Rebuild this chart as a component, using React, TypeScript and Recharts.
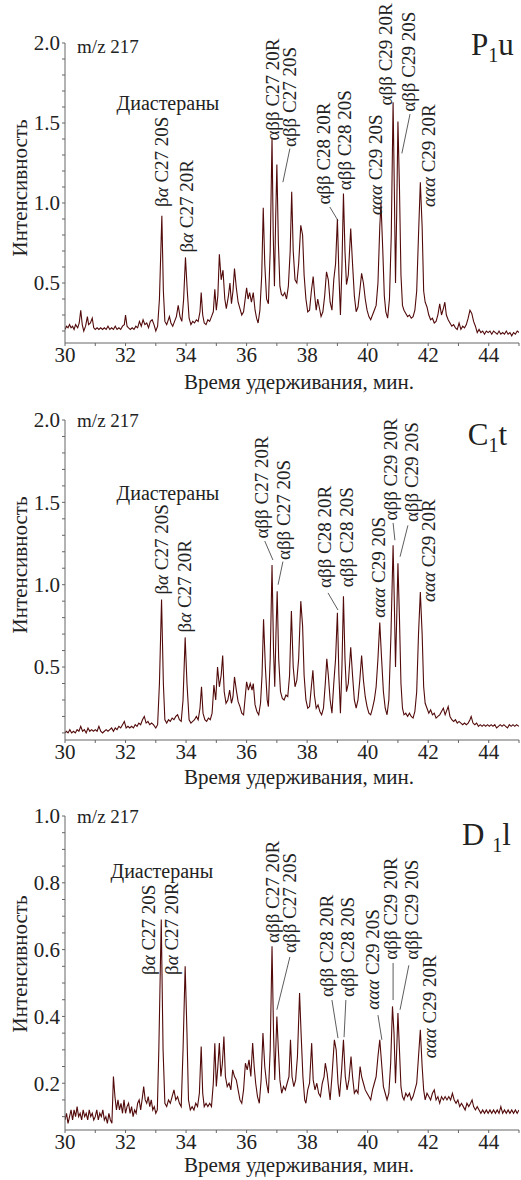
import React from 'react';
import { Line, LineChart, ReferenceDot, ReferenceLine, XAxis, YAxis } from 'recharts';

const FONT = '"Liberation Serif", "DejaVu Serif", serif';
const INK = '#222';
const AXIS = '#666';
const TRACE = '#520a0a';

// retention time ticks (every minute, labels on even minutes)
const xTicks = [30, 31, 32, 33, 34, 35, 36, 37, 38, 39, 40, 41, 42, 43, 44, 45];
const xLabelled = [30, 32, 34, 36, 38, 40, 42, 44];

const yTicksWide = [0.2, 0.3, 0.4, 0.5, 0.6, 0.7, 0.8, 0.9, 1.0, 1.1, 1.2, 1.3, 1.4, 1.5, 1.6, 1.7, 1.8, 1.9, 2.0];
const yMajorWide = [0.5, 1.0, 1.5, 2.0];
const yTicksNarrow = [0.1, 0.15, 0.2, 0.25, 0.3, 0.35, 0.4, 0.45, 0.5, 0.55, 0.6, 0.65, 0.7, 0.75, 0.8, 0.85, 0.9, 0.95, 1.0];
const yMajorNarrow = [0.2, 0.4, 0.6, 0.8, 1.0];

// P1u trace [time, intensity]
const traceP1: [number, number][] = [
  [30.0, 0.21], [30.05, 0.23], [30.1, 0.22], [30.15, 0.24], [30.2, 0.22], [30.25, 0.23], [30.3, 0.21], [30.35, 0.24],
  [30.42, 0.22], [30.47, 0.25], [30.52, 0.33], [30.57, 0.24], [30.62, 0.2], [30.68, 0.23], [30.74, 0.29], [30.78, 0.24],
  [30.84, 0.25], [30.9, 0.28], [30.95, 0.22], [31.0, 0.21], [31.06, 0.22], [31.12, 0.21], [31.18, 0.22], [31.24, 0.21],
  [31.3, 0.22], [31.36, 0.21], [31.42, 0.23], [31.48, 0.21], [31.54, 0.22], [31.6, 0.21], [31.66, 0.23], [31.72, 0.21],
  [31.78, 0.22], [31.84, 0.21], [31.9, 0.23], [31.96, 0.24], [32.0, 0.3], [32.05, 0.23], [32.1, 0.22], [32.16, 0.21],
  [32.22, 0.22], [32.28, 0.21], [32.34, 0.23], [32.4, 0.22], [32.46, 0.26], [32.52, 0.23], [32.58, 0.27], [32.64, 0.24],
  [32.7, 0.25], [32.76, 0.22], [32.82, 0.26], [32.88, 0.27], [32.94, 0.24], [33.0, 0.2], [33.06, 0.23], [33.12, 0.4],
  [33.2, 0.92], [33.25, 0.45], [33.3, 0.26], [33.36, 0.24], [33.45, 0.29], [33.5, 0.25], [33.56, 0.23], [33.62, 0.26],
  [33.68, 0.29], [33.74, 0.36], [33.8, 0.29], [33.86, 0.26], [33.92, 0.4], [33.98, 0.66], [34.04, 0.45], [34.1, 0.28],
  [34.16, 0.24], [34.22, 0.26], [34.28, 0.25], [34.34, 0.27], [34.4, 0.26], [34.46, 0.32], [34.5, 0.44], [34.55, 0.3],
  [34.6, 0.25], [34.66, 0.24], [34.72, 0.27], [34.78, 0.26], [34.84, 0.29], [34.9, 0.32], [34.95, 0.46], [35.0, 0.33],
  [35.05, 0.42], [35.1, 0.68], [35.16, 0.52], [35.22, 0.58], [35.28, 0.4], [35.33, 0.34], [35.4, 0.42], [35.45, 0.5],
  [35.5, 0.37], [35.55, 0.45], [35.6, 0.59], [35.66, 0.47], [35.72, 0.38], [35.78, 0.34], [35.84, 0.3], [35.9, 0.32],
  [35.96, 0.41], [36.0, 0.47], [36.05, 0.4], [36.1, 0.44], [36.16, 0.38], [36.22, 0.44], [36.28, 0.33], [36.33, 0.28],
  [36.38, 0.25], [36.44, 0.33], [36.5, 0.55], [36.55, 0.97], [36.6, 0.62], [36.66, 0.4], [36.72, 0.37], [36.78, 0.7],
  [36.84, 1.41], [36.88, 0.8], [36.92, 0.48], [36.96, 0.9], [37.0, 1.24], [37.05, 0.75], [37.1, 0.48], [37.15, 0.43],
  [37.2, 0.42], [37.26, 0.44], [37.32, 0.4], [37.38, 0.48], [37.44, 0.7], [37.49, 1.07], [37.54, 0.7], [37.6, 0.52],
  [37.66, 0.5], [37.72, 0.62], [37.79, 0.86], [37.85, 0.8], [37.9, 0.55], [37.96, 0.4], [38.02, 0.32], [38.08, 0.33],
  [38.14, 0.45], [38.2, 0.54], [38.25, 0.42], [38.3, 0.33], [38.35, 0.4], [38.4, 0.35], [38.46, 0.29], [38.52, 0.32],
  [38.58, 0.42], [38.64, 0.57], [38.7, 0.52], [38.76, 0.38], [38.82, 0.33], [38.88, 0.52], [38.94, 0.62], [39.0, 0.9],
  [39.05, 0.55], [39.1, 0.3], [39.15, 0.6], [39.2, 1.06], [39.25, 0.7], [39.3, 0.49], [39.36, 0.55], [39.44, 0.84],
  [39.5, 0.62], [39.56, 0.42], [39.62, 0.32], [39.68, 0.35], [39.74, 0.45], [39.8, 0.56], [39.86, 0.5], [39.92, 0.4],
  [39.98, 0.33], [40.04, 0.29], [40.1, 0.27], [40.16, 0.3], [40.22, 0.33], [40.28, 0.36], [40.34, 0.5], [40.4, 0.85],
  [40.44, 1.0], [40.5, 0.7], [40.55, 0.42], [40.6, 0.32], [40.66, 0.28], [40.72, 0.4], [40.78, 0.8], [40.84, 1.63],
  [40.88, 1.1], [40.92, 0.5], [40.96, 0.95], [41.0, 1.51], [41.05, 1.1], [41.1, 0.55], [41.15, 0.36], [41.2, 0.33],
  [41.26, 0.31], [41.32, 0.29], [41.38, 0.3], [41.44, 0.28], [41.5, 0.29], [41.56, 0.33], [41.62, 0.45], [41.68, 0.8],
  [41.74, 1.13], [41.8, 0.85], [41.85, 0.45], [41.9, 0.38], [41.96, 0.35], [42.02, 0.3], [42.08, 0.27], [42.14, 0.28],
  [42.2, 0.25], [42.26, 0.26], [42.32, 0.3], [42.38, 0.37], [42.44, 0.3], [42.5, 0.34], [42.55, 0.38], [42.6, 0.3],
  [42.66, 0.27], [42.72, 0.25], [42.78, 0.23], [42.84, 0.24], [42.9, 0.22], [42.96, 0.21], [43.02, 0.25], [43.08, 0.21],
  [43.14, 0.23], [43.2, 0.22], [43.26, 0.24], [43.32, 0.28], [43.38, 0.33], [43.44, 0.31], [43.5, 0.26], [43.56, 0.23],
  [43.62, 0.19], [43.68, 0.21], [43.74, 0.19], [43.8, 0.2], [43.86, 0.18], [43.92, 0.2], [43.98, 0.19], [44.04, 0.2],
  [44.1, 0.18], [44.16, 0.2], [44.22, 0.19], [44.28, 0.18], [44.34, 0.2], [44.4, 0.18], [44.46, 0.19], [44.52, 0.18],
  [44.58, 0.2], [44.64, 0.18], [44.7, 0.19], [44.76, 0.17], [44.82, 0.19], [44.88, 0.18], [44.94, 0.2], [45.0, 0.19],
];

// C1t trace
const traceC1: [number, number][] = [
  [30.0, 0.1], [30.05, 0.11], [30.1, 0.1], [30.16, 0.12], [30.22, 0.1], [30.28, 0.11], [30.34, 0.1], [30.4, 0.12],
  [30.46, 0.11], [30.52, 0.14], [30.58, 0.11], [30.64, 0.12], [30.7, 0.1], [30.76, 0.13], [30.82, 0.11], [30.88, 0.12],
  [30.94, 0.11], [31.0, 0.12], [31.06, 0.11], [31.12, 0.14], [31.18, 0.11], [31.24, 0.1], [31.3, 0.11], [31.36, 0.12],
  [31.42, 0.11], [31.48, 0.12], [31.54, 0.13], [31.6, 0.11], [31.66, 0.13], [31.72, 0.12], [31.78, 0.14], [31.84, 0.13],
  [31.9, 0.15], [31.96, 0.17], [32.02, 0.13], [32.08, 0.14], [32.14, 0.13], [32.2, 0.14], [32.26, 0.13], [32.32, 0.15],
  [32.38, 0.14], [32.44, 0.16], [32.5, 0.15], [32.56, 0.18], [32.62, 0.2], [32.68, 0.16], [32.74, 0.17], [32.8, 0.15],
  [32.86, 0.16], [32.92, 0.15], [33.0, 0.13], [33.06, 0.15], [33.12, 0.4], [33.19, 0.91], [33.25, 0.4], [33.3, 0.18],
  [33.36, 0.16], [33.42, 0.18], [33.48, 0.17], [33.54, 0.19], [33.6, 0.18], [33.66, 0.2], [33.72, 0.21], [33.78, 0.18],
  [33.84, 0.17], [33.9, 0.3], [33.97, 0.68], [34.03, 0.4], [34.1, 0.18], [34.16, 0.16], [34.22, 0.17], [34.28, 0.18],
  [34.34, 0.2], [34.4, 0.18], [34.46, 0.25], [34.51, 0.38], [34.56, 0.22], [34.62, 0.18], [34.68, 0.17], [34.74, 0.19],
  [34.8, 0.18], [34.86, 0.22], [34.92, 0.39], [34.98, 0.3], [35.04, 0.5], [35.1, 0.38], [35.16, 0.45], [35.21, 0.57],
  [35.26, 0.35], [35.32, 0.28], [35.38, 0.3], [35.44, 0.36], [35.5, 0.28], [35.55, 0.32], [35.6, 0.44], [35.66, 0.36],
  [35.72, 0.29], [35.78, 0.26], [35.84, 0.22], [35.9, 0.21], [35.96, 0.33], [36.0, 0.41], [36.06, 0.36], [36.12, 0.4],
  [36.18, 0.36], [36.22, 0.4], [36.28, 0.27], [36.34, 0.23], [36.4, 0.21], [36.46, 0.28], [36.51, 0.45], [36.56, 0.79],
  [36.62, 0.5], [36.68, 0.3], [36.72, 0.26], [36.78, 0.55], [36.84, 1.12], [36.89, 0.6], [36.93, 0.38], [36.97, 0.7],
  [37.01, 0.96], [37.06, 0.55], [37.12, 0.35], [37.18, 0.31], [37.24, 0.3], [37.3, 0.33], [37.36, 0.32], [37.42, 0.45],
  [37.48, 0.84], [37.54, 0.5], [37.6, 0.38], [37.66, 0.42], [37.72, 0.55], [37.79, 0.9], [37.85, 0.75], [37.9, 0.45],
  [37.96, 0.3], [38.02, 0.25], [38.08, 0.26], [38.14, 0.38], [38.19, 0.48], [38.24, 0.33], [38.3, 0.25], [38.36, 0.27],
  [38.42, 0.23], [38.48, 0.21], [38.54, 0.25], [38.6, 0.4], [38.65, 0.55], [38.7, 0.45], [38.76, 0.3], [38.82, 0.22],
  [38.88, 0.4], [38.94, 0.55], [39.0, 0.83], [39.05, 0.45], [39.1, 0.22], [39.15, 0.5], [39.2, 0.93], [39.25, 0.55],
  [39.3, 0.35], [39.36, 0.4], [39.44, 0.62], [39.5, 0.45], [39.56, 0.3], [39.62, 0.25], [39.68, 0.3], [39.74, 0.42],
  [39.8, 0.57], [39.86, 0.42], [39.92, 0.32], [39.98, 0.26], [40.04, 0.22], [40.1, 0.21], [40.16, 0.25], [40.22, 0.3],
  [40.28, 0.38], [40.34, 0.55], [40.4, 0.77], [40.46, 0.55], [40.52, 0.35], [40.58, 0.25], [40.64, 0.21], [40.7, 0.3],
  [40.77, 0.7], [40.84, 1.24], [40.88, 0.9], [40.92, 0.5], [40.96, 0.8], [41.0, 1.13], [41.05, 0.8], [41.1, 0.4],
  [41.15, 0.25], [41.2, 0.21], [41.26, 0.22], [41.32, 0.2], [41.38, 0.22], [41.44, 0.2], [41.5, 0.19], [41.56, 0.23],
  [41.62, 0.35], [41.68, 0.7], [41.74, 0.955], [41.8, 0.7], [41.85, 0.38], [41.9, 0.28], [41.96, 0.25], [42.02, 0.22],
  [42.08, 0.24], [42.14, 0.21], [42.2, 0.22], [42.26, 0.19], [42.32, 0.2], [42.38, 0.21], [42.44, 0.23], [42.5, 0.25],
  [42.56, 0.21], [42.62, 0.24], [42.66, 0.26], [42.72, 0.2], [42.78, 0.18], [42.84, 0.17], [42.9, 0.18], [42.96, 0.16],
  [43.02, 0.17], [43.08, 0.16], [43.14, 0.15], [43.2, 0.16], [43.26, 0.15], [43.32, 0.16], [43.38, 0.18], [43.42, 0.2],
  [43.48, 0.16], [43.54, 0.15], [43.6, 0.16], [43.66, 0.14], [43.72, 0.15], [43.78, 0.14], [43.84, 0.15], [43.9, 0.14],
  [43.96, 0.15], [44.02, 0.14], [44.08, 0.15], [44.14, 0.14], [44.2, 0.15], [44.26, 0.13], [44.32, 0.14], [44.38, 0.15],
  [44.44, 0.14], [44.5, 0.15], [44.56, 0.14], [44.62, 0.13], [44.68, 0.15], [44.74, 0.14], [44.8, 0.15], [44.86, 0.14],
  [44.92, 0.15], [45.0, 0.14],
];

// D1l trace
const traceD1: [number, number][] = [
  [30.0, 0.09], [30.05, 0.11], [30.1, 0.08], [30.15, 0.1], [30.2, 0.12], [30.25, 0.09], [30.3, 0.12], [30.35, 0.1],
  [30.4, 0.13], [30.45, 0.1], [30.5, 0.11], [30.55, 0.09], [30.6, 0.12], [30.65, 0.1], [30.7, 0.11], [30.75, 0.09],
  [30.8, 0.12], [30.85, 0.1], [30.9, 0.11], [30.95, 0.09], [31.0, 0.1], [31.05, 0.12], [31.1, 0.09], [31.15, 0.11],
  [31.2, 0.1], [31.25, 0.12], [31.3, 0.09], [31.35, 0.1], [31.4, 0.08], [31.45, 0.11], [31.5, 0.09], [31.55, 0.08],
  [31.6, 0.22], [31.65, 0.16], [31.7, 0.12], [31.75, 0.15], [31.8, 0.12], [31.85, 0.14], [31.9, 0.11], [31.95, 0.15],
  [32.0, 0.11], [32.05, 0.13], [32.1, 0.14], [32.15, 0.11], [32.2, 0.13], [32.25, 0.1], [32.3, 0.12], [32.35, 0.11],
  [32.4, 0.14], [32.45, 0.15], [32.5, 0.12], [32.56, 0.16], [32.6, 0.19], [32.65, 0.15], [32.7, 0.14], [32.75, 0.16],
  [32.8, 0.13], [32.85, 0.15], [32.9, 0.12], [32.95, 0.13], [33.0, 0.11], [33.05, 0.12], [33.1, 0.3], [33.18, 0.69],
  [33.24, 0.3], [33.3, 0.14], [33.36, 0.13], [33.42, 0.15], [33.48, 0.14], [33.54, 0.16], [33.6, 0.18], [33.66, 0.15],
  [33.72, 0.16], [33.78, 0.14], [33.84, 0.13], [33.9, 0.3], [33.97, 0.55], [34.03, 0.35], [34.08, 0.15], [34.14, 0.12],
  [34.2, 0.13], [34.26, 0.12], [34.32, 0.14], [34.38, 0.13], [34.44, 0.17], [34.5, 0.31], [34.55, 0.17], [34.6, 0.13],
  [34.66, 0.14], [34.72, 0.13], [34.78, 0.14], [34.84, 0.13], [34.9, 0.2], [34.95, 0.32], [35.0, 0.19], [35.05, 0.25],
  [35.1, 0.32], [35.15, 0.22], [35.2, 0.26], [35.25, 0.34], [35.3, 0.22], [35.36, 0.19], [35.42, 0.2], [35.48, 0.18],
  [35.54, 0.24], [35.6, 0.22], [35.66, 0.21], [35.72, 0.18], [35.78, 0.15], [35.84, 0.14], [35.9, 0.18], [35.96, 0.26],
  [36.02, 0.24], [36.08, 0.27], [36.14, 0.22], [36.2, 0.32], [36.25, 0.25], [36.3, 0.2], [36.36, 0.16], [36.42, 0.14],
  [36.48, 0.21], [36.54, 0.35], [36.6, 0.25], [36.66, 0.2], [36.72, 0.17], [36.78, 0.3], [36.84, 0.61], [36.89, 0.35],
  [36.93, 0.21], [37.0, 0.4], [37.05, 0.3], [37.1, 0.21], [37.16, 0.17], [37.22, 0.19], [37.28, 0.18], [37.34, 0.2],
  [37.4, 0.22], [37.45, 0.33], [37.5, 0.22], [37.56, 0.19], [37.62, 0.21], [37.68, 0.28], [37.75, 0.47], [37.8, 0.35],
  [37.86, 0.22], [37.92, 0.15], [37.96, 0.14], [38.02, 0.18], [38.08, 0.2], [38.15, 0.32], [38.2, 0.21], [38.26, 0.18],
  [38.32, 0.2], [38.38, 0.17], [38.44, 0.16], [38.5, 0.2], [38.56, 0.22], [38.6, 0.26], [38.66, 0.23], [38.72, 0.18],
  [38.76, 0.15], [38.82, 0.22], [38.9, 0.33], [38.96, 0.3], [39.02, 0.2], [39.07, 0.16], [39.14, 0.24], [39.2, 0.33],
  [39.26, 0.22], [39.32, 0.18], [39.38, 0.21], [39.45, 0.28], [39.5, 0.22], [39.56, 0.17], [39.62, 0.18], [39.68, 0.17],
  [39.75, 0.25], [39.8, 0.22], [39.86, 0.2], [39.92, 0.18], [39.98, 0.17], [40.04, 0.16], [40.1, 0.15], [40.16, 0.18],
  [40.22, 0.2], [40.28, 0.22], [40.34, 0.28], [40.4, 0.33], [40.46, 0.26], [40.52, 0.19], [40.58, 0.17], [40.64, 0.15],
  [40.7, 0.17], [40.76, 0.26], [40.82, 0.43], [40.87, 0.35], [40.92, 0.2], [40.96, 0.3], [41.0, 0.41], [41.05, 0.3],
  [41.1, 0.19], [41.15, 0.16], [41.2, 0.15], [41.26, 0.17], [41.32, 0.16], [41.38, 0.17], [41.44, 0.15], [41.5, 0.16],
  [41.56, 0.18], [41.62, 0.2], [41.68, 0.28], [41.74, 0.36], [41.8, 0.25], [41.85, 0.18], [41.9, 0.15], [41.96, 0.17],
  [42.02, 0.16], [42.08, 0.15], [42.14, 0.17], [42.2, 0.18], [42.26, 0.15], [42.32, 0.16], [42.38, 0.14], [42.44, 0.16],
  [42.5, 0.15], [42.56, 0.16], [42.62, 0.15], [42.68, 0.16], [42.74, 0.15], [42.8, 0.17], [42.86, 0.15], [42.92, 0.14],
  [42.98, 0.15], [43.04, 0.13], [43.1, 0.14], [43.16, 0.13], [43.22, 0.12], [43.28, 0.14], [43.34, 0.13], [43.4, 0.14],
  [43.45, 0.15], [43.5, 0.13], [43.56, 0.12], [43.62, 0.13], [43.68, 0.12], [43.74, 0.11], [43.8, 0.12], [43.86, 0.11],
  [43.92, 0.12], [43.98, 0.11], [44.04, 0.12], [44.1, 0.11], [44.16, 0.12], [44.22, 0.11], [44.28, 0.12], [44.34, 0.11],
  [44.4, 0.13], [44.46, 0.11], [44.52, 0.12], [44.58, 0.11], [44.64, 0.12], [44.7, 0.11], [44.76, 0.12], [44.82, 0.11],
  [44.88, 0.12], [44.94, 0.11], [45.0, 0.12],
];

type Peak = { t: number; v: number; text: string };
type Leader = [number, number, number, number];

// peak labels: t = column centre, v = bottom of the rotated text
const peaksP1: Peak[] = [
  { t: 33.17, v: 0.975, text: 'βα C27 20S' },
  { t: 34.0, v: 0.69, text: 'βα C27 20R' },
  { t: 36.84, v: 1.39, text: 'αββ C27 20R' },
  { t: 37.4, v: 1.35, text: 'αββ C27 20S' },
  { t: 38.52, v: 0.99, text: 'αββ C28 20R' },
  { t: 39.22, v: 1.08, text: 'αββ C28 20S' },
  { t: 40.27, v: 0.925, text: 'ααα C29 20S' },
  { t: 40.6, v: 1.61, text: 'αββ C29 20R' },
  { t: 41.33, v: 1.57, text: 'αββ C29 20S' },
  { t: 41.99, v: 0.975, text: 'ααα C29 20R' },
];
const leadersP1: Leader[] = [
  [37.43, 1.34, 37.2, 1.13],
  [38.75, 0.975, 39.02, 0.89],
  [41.4, 1.556, 41.13, 1.31],
];

const peaksC1: Peak[] = [
  { t: 33.17, v: 0.94, text: 'βα C27 20S' },
  { t: 33.96, v: 0.71, text: 'βα C27 20R' },
  { t: 36.5, v: 1.28, text: 'αββ C27 20R' },
  { t: 37.23, v: 1.15, text: 'αββ C27 20S' },
  { t: 38.56, v: 0.98, text: 'αββ C28 20R' },
  { t: 39.28, v: 0.985, text: 'αββ C28 20S' },
  { t: 40.34, v: 0.8, text: 'ααα C29 20S' },
  { t: 40.74, v: 1.39, text: 'αββ C29 20R' },
  { t: 41.43, v: 1.38, text: 'αββ C29 20S' },
  { t: 41.99, v: 0.895, text: 'ααα C29 20R' },
];
const leadersC1: Leader[] = [
  [36.6, 1.265, 36.87, 1.15],
  [37.2, 1.14, 37.04, 1.0],
  [38.69, 0.95, 39.02, 0.846],
  [40.84, 1.375, 40.9, 1.27],
  [41.33, 1.36, 41.07, 1.17],
];

const peaksD1: Peak[] = [
  { t: 32.74, v: 0.524, text: 'βα C27 20S' },
  { t: 33.53, v: 0.524, text: 'βα C27 20R' },
  { t: 36.84, v: 0.62, text: 'αββ C27 20R' },
  { t: 37.4, v: 0.59, text: 'αββ C27 20S' },
  { t: 38.62, v: 0.458, text: 'αββ C28 20R' },
  { t: 39.32, v: 0.458, text: 'αββ C28 20S' },
  { t: 40.14, v: 0.42, text: 'ααα C29 20S' },
  { t: 40.74, v: 0.57, text: 'αββ C29 20R' },
  { t: 41.43, v: 0.57, text: 'αββ C29 20S' },
  { t: 42.03, v: 0.275, text: 'ααα C29 20R' },
];
const leadersD1: Leader[] = [
  [37.43, 0.578, 37.0, 0.42],
  [38.82, 0.449, 39.02, 0.335],
  [39.28, 0.449, 39.22, 0.338],
  [40.34, 0.404, 40.47, 0.33],
  [40.84, 0.56, 40.84, 0.449],
  [41.36, 0.553, 41.07, 0.42],
];

function PeakText({ viewBox, text }: any) {
  const x = viewBox?.x ?? 0;
  const y = viewBox?.y ?? 0;
  const [head, ...rest] = text.split(' ');
  let headNode: React.ReactNode = head;
  if (head === 'ααα') headNode = <tspan fontStyle="italic">ααα</tspan>;
  if (head === 'βα') headNode = <>β<tspan fontStyle="italic">α</tspan></>;
  return (
    <text
      x={x}
      y={y}
      dy="0.35em"
      transform={`rotate(-90 ${x} ${y})`}
      fill={INK}
      fontSize={19}
      style={{ fontFamily: FONT }}
      textAnchor="start"
    >
      {headNode}
      {' ' + rest.join(' ')}
    </text>
  );
}

function NoteText({ viewBox, text, anchor, size, rotate }: any) {
  const x = viewBox?.x ?? 0;
  const y = viewBox?.y ?? 0;
  return (
    <text
      x={x}
      y={y}
      dy={rotate ? '0.35em' : 0}
      transform={rotate ? `rotate(-90 ${x} ${y})` : undefined}
      fill={INK}
      fontSize={size}
      style={{ fontFamily: FONT }}
      textAnchor={anchor}
    >
      {text}
    </text>
  );
}

function SampleName({ viewBox, main, sub, tail }: any) {
  const x = viewBox?.x ?? 0;
  const y = viewBox?.y ?? 0;
  return (
    <text x={x} y={y} fill={INK} fontSize={31} style={{ fontFamily: FONT }}>
      {main}
      <tspan fontSize={20} dy={7}>{sub}</tspan>
      <tspan dy={-7}>{tail}</tspan>
    </text>
  );
}

type PanelProps = {
  top: number;
  height: number;
  margin: { top: number; right: number; bottom: number; left: number };
  trace: [number, number][];
  yDomain: [number, number];
  yTicks: number[];
  yMajor: number[];
  peaks: Peak[];
  leaders: Leader[];
  mz: [number, number];
  group: [number, number];
  sample: { t: number; v: number; main: string; sub: string; tail: string };
  yTitle: [number, number];
  xTitle: [number, number];
};

const tickStyle = { fill: INK, fontSize: 21, fontFamily: FONT };

function Panel(p: PanelProps) {
  const data = p.trace.map(([t, v]) => ({ t, v }));
  return (
    <div style={{ position: 'absolute', left: 0, top: p.top }}>
      <LineChart width={521} height={p.height} data={data} margin={p.margin}>
        <XAxis
          dataKey="t"
          type="number"
          domain={[30, 45]}
          ticks={xTicks}
          interval={0}
          allowDataOverflow
          tickFormatter={(v: number) => (xLabelled.includes(v) ? String(v) : '')}
          tickSize={3}
          tickMargin={1}
          height={30}
          stroke={AXIS}
          tick={tickStyle}
        />
        <YAxis
          type="number"
          domain={p.yDomain}
          ticks={p.yTicks}
          interval={0}
          allowDataOverflow
          tickFormatter={(v: number) => (p.yMajor.some((m) => Math.abs(m - v) < 1e-6) ? v.toFixed(1) : '')}
          tickSize={3}
          tickMargin={2}
          width={50}
          stroke={AXIS}
          tick={tickStyle}
        />
        <Line
          type="linear"
          dataKey="v"
          stroke={TRACE}
          strokeWidth={1.1}
          dot={false}
          activeDot={false}
          isAnimationActive={false}
        />
        {p.leaders.map(([t1, v1, t2, v2], i) => (
          <ReferenceLine
            key={`l${i}`}
            segment={[{ x: t1, y: v1 }, { x: t2, y: v2 }]}
            stroke="#333"
            strokeWidth={0.8}
            ifOverflow="visible"
          />
        ))}
        {p.peaks.map((pk, i) => (
          <ReferenceDot
            key={`p${i}`}
            x={pk.t}
            y={pk.v}
            r={0}
            ifOverflow="visible"
            label={(lp: any) => <PeakText viewBox={lp.viewBox} text={pk.text} />}
          />
        ))}
        <ReferenceDot
          x={p.mz[0]}
          y={p.mz[1]}
          r={0}
          ifOverflow="visible"
          label={(lp: any) => <NoteText viewBox={lp.viewBox} text="m/z 217" anchor="start" size={19} />}
        />
        <ReferenceDot
          x={p.group[0]}
          y={p.group[1]}
          r={0}
          ifOverflow="visible"
          label={(lp: any) => <NoteText viewBox={lp.viewBox} text="Диастераны" anchor="middle" size={20} />}
        />
        <ReferenceDot
          x={p.sample.t}
          y={p.sample.v}
          r={0}
          ifOverflow="visible"
          label={(lp: any) => (
            <SampleName viewBox={lp.viewBox} main={p.sample.main} sub={p.sample.sub} tail={p.sample.tail} />
          )}
        />
        <ReferenceDot
          x={p.yTitle[0]}
          y={p.yTitle[1]}
          r={0}
          ifOverflow="visible"
          label={(lp: any) => (
            <NoteText viewBox={lp.viewBox} text="Интенсивность" anchor="middle" size={21} rotate />
          )}
        />
        <ReferenceDot
          x={p.xTitle[0]}
          y={p.xTitle[1]}
          r={0}
          ifOverflow="visible"
          label={(lp: any) => (
            <NoteText viewBox={lp.viewBox} text="Время удерживания, мин." anchor="middle" size={21} />
          )}
        />
      </LineChart>
    </div>
  );
}

export default function App() {
  return (
    <div
      style={{
        position: 'absolute',
        left: 0,
        top: 0,
        width: 521,
        height: 1180,
        background: '#fff',
        fontFamily: FONT,
      }}
    >
      <Panel
        top={0}
        height={400}
        margin={{ top: 43, right: 2, bottom: 27, left: 15 }}
        trace={traceP1}
        yDomain={[0.125, 2.0]}
        yTicks={yTicksWide}
        yMajor={yMajorWide}
        peaks={peaksP1}
        leaders={leadersP1}
        mz={[30.4, 1.94]}
        group={[33.4, 1.58]}
        sample={{ t: 43.41, v: 1.925, main: 'P', sub: '1', tail: 'u' }}
        yTitle={[28.51, 1.094]}
        xTitle={[37.73, -0.1625]}
      />
      <Panel
        top={380}
        height={420}
        margin={{ top: 40, right: 2, bottom: 30, left: 15 }}
        trace={traceC1}
        yDomain={[0.057, 2.0]}
        yTicks={[0.1, ...yTicksWide]}
        yMajor={yMajorWide}
        peaks={peaksC1}
        leaders={leadersC1}
        mz={[30.4, 1.957]}
        group={[33.4, 1.514]}
        sample={{ t: 43.31, v: 1.848, main: 'C', sub: '1', tail: 't' }}
        yTitle={[28.51, 1.12]}
        xTitle={[37.73, -0.21]}
      />
      <Panel
        top={770}
        height={410}
        margin={{ top: 46, right: 2, bottom: 20, left: 15 }}
        trace={traceD1}
        yDomain={[0.06, 1.0]}
        yTicks={yTicksNarrow}
        yMajor={yMajorNarrow}
        peaks={peaksD1}
        leaders={leadersD1}
        mz={[30.4, 0.979]}
        group={[33.2, 0.814]}
        sample={{ t: 43.12, v: 0.913, main: 'D ', sub: '1', tail: 'l' }}
        yTitle={[28.51, 0.557]}
        xTitle={[37.73, -0.067]}
      />
    </div>
  );
}
